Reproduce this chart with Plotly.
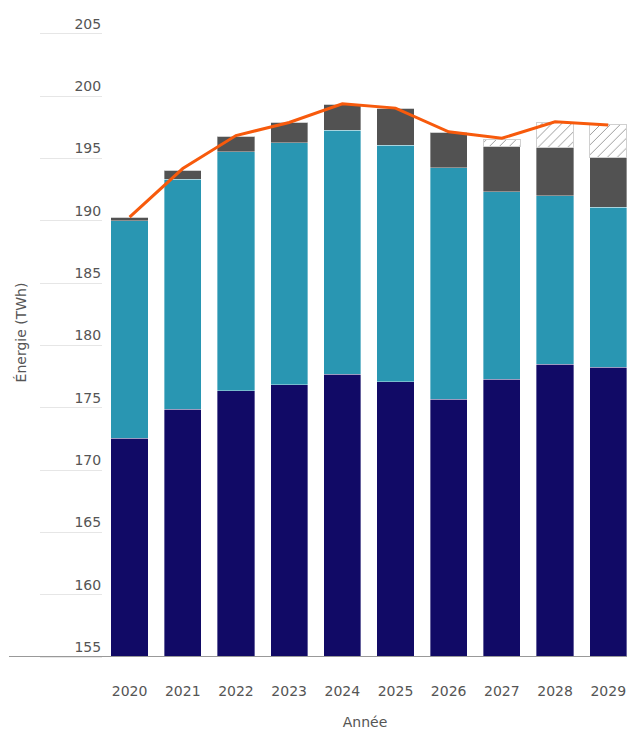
import plotly.graph_objects as go

years = ["2020", "2021", "2022", "2023", "2024", "2025", "2026", "2027", "2028", "2029"]
# stacked segment values (TWh)
base_navy = [172.55, 174.9, 176.35, 176.85, 177.7, 177.1, 175.7, 177.3, 178.5, 178.25]
seg_teal = [17.48, 18.45, 19.18, 19.43, 19.57, 18.99, 18.56, 15.05, 13.5, 12.83]
seg_gray = [0.27, 0.70, 1.21, 1.62, 2.06, 2.94, 2.86, 3.61, 3.85, 4.04]
seg_hatch = [0, 0, 0, 0, 0, 0, 0, 0.56, 2.02, 2.59]
total_line = [190.3, 194.2, 196.85, 197.9, 199.4, 199.05, 197.15, 196.63, 197.95, 197.7]
y_ticks = [155, 160, 165, 170, 175, 180, 185, 190, 195, 200, 205]

FONT = "DejaVu Sans"
TXT = "#555555"

fig = go.Figure()
edge = dict(color="rgba(255,255,255,0.6)", width=0.6)
fig.add_trace(go.Bar(x=years, y=base_navy, marker=dict(color="#110a66", line=edge)))
fig.add_trace(go.Bar(x=years, y=seg_teal, marker=dict(color="#2996b2", line=edge)))
fig.add_trace(go.Bar(x=years, y=seg_gray, marker=dict(color="#525252", line=edge)))
fig.add_trace(go.Bar(
    x=years, y=seg_hatch,
    marker=dict(color="#ffffff", line=dict(color="#d0d0d0", width=1),
                pattern=dict(shape="/", fgcolor="#8a8a8a", bgcolor="#ffffff",
                             size=7, solidity=0.12, fillmode="replace")),
))
fig.add_trace(go.Scatter(x=years, y=total_line, mode="lines",
                         line=dict(color="#f75a0c", width=3)))

fig.update_layout(
    width=627, height=730, autosize=False,
    margin=dict(l=103, r=0, t=28, b=73),
    paper_bgcolor="white", plot_bgcolor="white",
    barmode="stack", bargap=0.30, showlegend=False,
    font=dict(family=FONT, size=14, color=TXT),
    xaxis=dict(
        type="category", range=[-0.5, 9.353],
        showgrid=False, showline=False, zeroline=False, ticks="",
        ticklabelstandoff=24,
        title=dict(text="Année", standoff=19, font=dict(size=14, color=TXT)),
    ),
    yaxis=dict(
        range=[155, 205.48], tickvals=y_ticks,
        showgrid=False, showline=False, zeroline=False,
        ticks="outside", ticklen=62, tickcolor="#e6e6e6", tickwidth=1,
        ticklabelstandoff=-64, ticklabelshift=-10,
    ),
    annotations=[dict(
        text="Énergie (TWh)", textangle=-90, showarrow=False,
        xref="paper", yref="paper", x=-0.1565, y=0.516,
        xanchor="center", yanchor="middle", font=dict(size=14, color=TXT),
    )],
)
fig.add_shape(type="line", xref="paper", yref="y", x0=-0.1794, x1=1, y0=155, y1=155,
              line=dict(color="#999999", width=2))

fig.write_html("out.html")
